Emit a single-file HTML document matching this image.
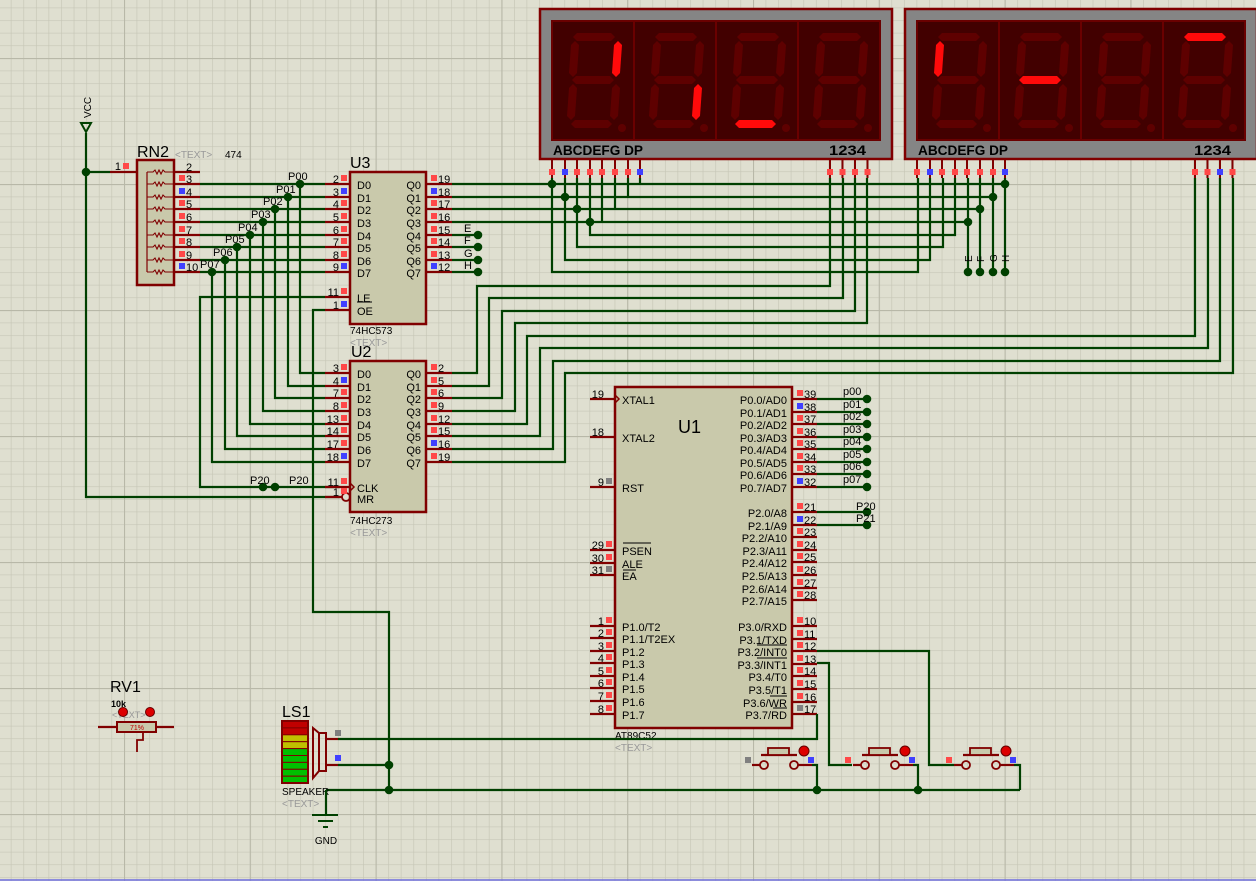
<!DOCTYPE html>
<html><head><meta charset="utf-8"><style>
html,body{margin:0;padding:0;background:#dfdfd0;width:1256px;height:881px;overflow:hidden}
svg{display:block}
text{font-family:"Liberation Sans",sans-serif}
</style></head><body>
<svg id="s" width="1256" height="881" xmlns="http://www.w3.org/2000/svg">
<defs>
<pattern id="g" x="10.8" y="7.6" width="12.58" height="12.6" patternUnits="userSpaceOnUse"><path d="M0 0H12.58M0 0V12.6" stroke="#c6c6b6" stroke-width="1.3" fill="none"/></pattern>
<pattern id="G" x="124" y="58" width="125.8" height="126" patternUnits="userSpaceOnUse"><path d="M0 0H125.8M0 0V126" stroke="#b8b8a8" stroke-width="2.2" fill="none"/></pattern>
</defs>
<rect width="1256" height="881" fill="#dfdfd0"/>
<rect width="1256" height="881" fill="url(#g)"/>
<rect width="1256" height="881" fill="url(#G)"/>
<line x1="0" y1="880" x2="1256" y2="880" stroke="#7070e0" stroke-width="1.5"/>
<g id="c"></g>
</svg>
<script>
var o='';
var W='#004000',R='#800000',F='#c9c9ab';
function L(pts,c,w){o+='<polyline points="'+pts+'" fill="none" stroke="'+(c||W)+'" stroke-width="'+(w||2.2)+'"/>';}
function D(x,y){o+='<circle cx="'+x+'" cy="'+y+'" r="4.3" fill="'+W+'"/>';}
function T(x,y,s,sz,a,c,extra){o+='<text x="'+x+'" y="'+y+'" font-size="'+(sz||11)+'" fill="'+(c||'#000')+'"'+(a?' text-anchor="'+a+'"':'')+(extra||'')+'>'+s+'</text>';}
function Q(x,y,c){o+='<rect x="'+x+'" y="'+y+'" width="6" height="6" fill="'+(c=='b'?'#4040ff':c=='g'?'#808080':'#ff4848')+'"/>';}
function RC(x,y,w,h,f,sw){o+='<rect x="'+x+'" y="'+y+'" width="'+w+'" height="'+h+'" fill="'+(f||F)+'" stroke="'+R+'" stroke-width="'+(sw||2.5)+'"/>';}
function LP(x0,x1,y,num,lab,c){L(x0+','+y+' '+x1+','+y,R);T(x1-11,y-1,num,11,'end');Q(x1-9,y-9,c);if(lab)T(x1+7,y+5,lab,11);}
function RP(x1,x0,y,num,lab,c){L(x1+','+y+' '+x0+','+y,R);Q(x1+5,y-9,c);T(x1+12,y-1,num,11);if(lab)T(x1-5,y+5,lab,11,'end');}

L('86,133 86,497 340,497');
o+='<polygon points="81,123 91,123 86,132" fill="none" stroke="'+W+'" stroke-width="2"/>';
o+='<text x="0" y="0" font-size="10" transform="translate(91,118) rotate(-90)">VCC</text>';
D(86,172);L('86,172 110,172');
L('110,172 137,172',R);T(121,170,'1',11,'end');Q(123,163,'r');
RC(137,160,37,125);
L('147,172 147,272',R,1.2);
var ry=[172,184,197,209,222,235,247,260,272],rn=['2','3','4','5','6','7','8','9','10'];
for(var i=0;i<9;i++){var y=ry[i];L('147,'+y+' 153,'+y+' 155,'+(y-2)+' 157,'+(y+2)+' 159,'+(y-2)+' 161,'+(y+2)+' 163,'+(y-2)+' 165,'+y+' 174,'+y,R,1.1);
L('174,'+y+' 200,'+y,R);T(186,y-1,rn[i],11);if(i>0)Q(179,y-9,(i==2||i==8)?'b':'r');}
T(137,157,'RN2',16);T(175,158,'&lt;TEXT&gt;',10,null,'#999');T(225,158,'474',10);

var dy=[184,197,209,222,235,247,260,272];
RC(350,172,76,152);T(350,168,'U3',16);T(350,334,'74HC573',10);T(350,346,'&lt;TEXT&gt;',10,null,'#999');
var u3l=['2','3','4','5','6','7','8','9'],u3r=['19','18','17','16','15','14','13','12'];
for(i=0;i<8;i++){LP(325,350,dy[i],u3l[i],'D'+i,(i==1||i==7)?'b':'r');RP(426,452,dy[i],u3r[i],'Q'+i,(i==1||i==7)?'b':'r');}
LP(325,350,297,'11','LE','r');LP(325,350,310,'1','OE','b');L('357,302 372,302','#000',1);
var vx=[300,288,275,263,250,237,225,212],u2y=[373,386,398,411,424,436,449,462];
var pl=['P00','P01','P02','P03','P04','P05','P06','P07'];
for(i=0;i<8;i++){L('200,'+dy[i]+' 325,'+dy[i]);L(vx[i]+','+dy[i]+' '+vx[i]+','+u2y[i]+' 325,'+u2y[i]);D(vx[i],dy[i]);T(vx[i]-12,dy[i]-4,pl[i],11);}
var eg=['E','F','G','H'];
for(i=0;i<4;i++){var y=dy[4+i];L('452,'+y+' 478,'+y);D(478,y);T(464,y-3,eg[i],11);}
L('325,297 200,297 200,487 340,487');D(263,487);D(275,487);T(250,484,'P20',11);T(289,484,'P20',11);
L('325,310 313,310 313,612 389,612 389,790');

RC(350,361,76,151);T(351,357,'U2',16);T(350,524,'74HC273',10);T(350,536,'&lt;TEXT&gt;',10,null,'#999');
var u2l=['3','4','7','8','13','14','17','18'],u2r=['2','5','6','9','12','15','16','19'];
for(i=0;i<8;i++){LP(325,350,u2y[i],u2l[i],'D'+i,(i==1||i==7)?'b':'r');RP(426,452,u2y[i],u2r[i],'Q'+i,i==6?'b':'r');}
LP(325,350,487,'11','CLK','r');o+='<polyline points="350,483 354,487 350,491" fill="none" stroke="'+R+'" stroke-width="1.5"/>';
L('325,497 342,497',R);o+='<circle cx="346" cy="497" r="4" fill="none" stroke="'+R+'" stroke-width="1.8"/>';T(339,496,'1',11,'end');Q(341,488,'r');T(357,503,'MR',11);

function seg(pts,c){o+='<polygon points="'+pts+'" fill="'+c+'"/>';}
function H(x1,x2,y,c){seg(x1+','+y+' '+(x1+4)+','+(y-4)+' '+(x2-4)+','+(y-4)+' '+x2+','+y+' '+(x2-4)+','+(y+4)+' '+(x1+4)+','+(y+4),c);}
function V(xt,xb,y1,y2,c){seg(xt+','+y1+' '+(xt+4)+','+(y1+4)+' '+(xb+4)+','+(y2-4)+' '+xb+','+y2+' '+(xb-4)+','+(y2-4)+' '+(xt-4)+','+(y1+4),c);}
function digit(Lx,lit){var on='#ff0a0a',off='#5e0000';function c(s){return lit.indexOf(s)>=0?on:off;}
H(Lx+21,Lx+63,37,c('A'));V(Lx+66,Lx+64,41,77,c('B'));V(Lx+64,Lx+62,84,120,c('C'));H(Lx+19,Lx+60,124,c('D'));
V(Lx+21,Lx+19,84,120,c('E'));V(Lx+23,Lx+21,41,77,c('F'));H(Lx+20,Lx+62,80,c('G'));
o+='<circle cx="'+(Lx+70)+'" cy="128" r="4" fill="'+off+'"/>';}
function disp(X,lits,pc,dc){
o+='<rect x="'+X+'" y="9" width="352" height="150" fill="#858585" stroke="'+R+'" stroke-width="2.5"/>';
o+='<rect x="'+(X+12)+'" y="21" width="328" height="119" fill="#420000" stroke="#6a0000" stroke-width="2"/>';
for(var k=1;k<4;k++){var sx=X+12+k*82;L(sx+',21 '+sx+',140','#6a0000',2);}
for(k=0;k<4;k++)digit(X+12+k*82,lits[k]);
o+='<text x="'+(X+13)+'" y="155" font-size="14" font-weight="bold" textLength="90" lengthAdjust="spacingAndGlyphs" font-family="Liberation Mono,monospace">ABCDEFG DP</text>';
o+='<text x="'+(X+289)+'" y="155" font-size="14" font-weight="bold" textLength="37" lengthAdjust="spacingAndGlyphs" font-family="Liberation Mono,monospace">1234</text>';
var px=[0,13,25,38,50,63,76,88];
for(k=0;k<8;k++){var x=X+12+px[k];L(x+',160 '+x+',178',R,2);Q(x-3,169,pc[k]);}
for(k=0;k<4;k++){var x=X+290+k*12.5;L(x+',160 '+x+',178',R,2);Q(x-3,169,dc[k]);}
}
disp(540,['B','C','D',''],['r','b','r','r','r','r','r','b'],['r','r','r','r']);
disp(905,['F','G','','A'],['r','b','r','r','r','r','r','b'],['r','r','b','r']);
L('452,184 1005,184');L('452,197 993,197');L('452,209 980,209');L('452,222 968,222');
L('552,178 552,272 918,272 918,178');L('565,178 565,260 930,260 930,178');L('577,178 577,247 943,247 943,178');L('590,178 590,235 955,235 955,178');
L('602,178 602,222');L('615,178 615,209');L('628,178 628,197');L('640,178 640,184');
D(552,184);D(565,197);D(577,209);D(590,222);
L('968,178 968,272');L('980,178 980,272');L('993,178 993,272');L('1005,178 1005,272');
D(968,222);D(980,209);D(993,197);D(1005,184);
for(i=0;i<4;i++){var x=[968,980,993,1005][i];D(x,272);o+='<text x="0" y="0" font-size="10" transform="translate('+(x+4)+',262) rotate(-90)">'+eg[i]+'</text>';}
L('830,178 830,286 477,286 477,373 452,373');L('843,178 843,298 489,298 489,386 452,386');
L('855,178 855,311 502,311 502,398 452,398');L('867,178 867,323 515,323 515,411 452,411');
L('1195,178 1195,336 527,336 527,424 452,424');L('1208,178 1208,348 540,348 540,436 452,436');
L('1220,178 1220,361 553,361 553,449 452,449');L('1233,178 1233,373 565,373 565,462 452,462');

RC(615,387,177,341);T(678,433,'U1',18);T(615,739,'AT89C52',10);T(615,751,'&lt;TEXT&gt;',10,null,'#999');
var ll=[[399,'19','XTAL1','n'],[437,'18','XTAL2','n'],[487,'9','RST','g'],[550,'29','PSEN','r'],[563,'30','ALE','r'],[575,'31','EA','g'],
[626,'1','P1.0/T2','r'],[638,'2','P1.1/T2EX','r'],[651,'3','P1.2','r'],[663,'4','P1.3','r'],[676,'5','P1.4','r'],[688,'6','P1.5','r'],[701,'7','P1.6','r'],[714,'8','P1.7','r']];
for(i=0;i<ll.length;i++){var a=ll[i];L('590,'+a[0]+' 615,'+a[0],R);T(604,a[0]-1,a[1],11,'end');if(a[3]!='n')Q(606,a[0]-9,a[3]);T(622,a[0]+5,a[2],11);}
L('623,543 651,543','#000',1);L('623,570 636,570','#000',1);
o+='<polyline points="615,395 619,399 615,403" fill="none" stroke="'+R+'" stroke-width="1.5"/>';
var rr=[];
for(i=0;i<8;i++)rr.push([399+i*12.55,String(39-i),'P0.'+i+'/AD'+i,(i==1||i==7)?'b':'r']);
for(i=0;i<8;i++)rr.push([512+i*12.6,String(21+i),'P2.'+i+'/A'+(8+i),i==1?'b':'r']);
var p3=['P3.0/RXD','P3.1/TXD','P3.2/INT0','P3.3/INT1','P3.4/T0','P3.5/T1','P3.6/WR','P3.7/RD'];
for(i=0;i<8;i++)rr.push([626+i*12.6,String(10+i),p3[i],i==7?'g':'r']);
for(i=0;i<rr.length;i++){var a=rr[i],y=Math.round(a[0]);L('792,'+y+' 817,'+y,R);Q(797,y-9,a[3]);T(804,y-1,a[1],11);T(787,y+5,a[2],11,'end');}
L('757,645 787,645','#000',1);L('757,658 787,658','#000',1);L('770,696 787,696','#000',1);L('773,708 787,708','#000',1);
for(i=0;i<8;i++){var y=Math.round(399+i*12.55);L('817,'+y+' 867,'+y);D(867,y);T(843,y-4,'p0'+i,11);}
L('817,512 867,512');D(867,512);T(856,510,'P20',11);L('817,525 867,525');D(867,525);T(856,522,'P21',11);

function btn(x){L((x-12)+',765 '+(x-4)+',765',R);o+='<circle cx="'+x+'" cy="765" r="4" fill="none" stroke="'+R+'" stroke-width="1.8"/>';
o+='<circle cx="'+(x+30)+'" cy="765" r="4" fill="none" stroke="'+R+'" stroke-width="1.8"/>';L((x+34)+',765 '+(x+48)+',765',R);
L((x-3)+',755 '+(x+33)+',755',R);o+='<rect x="'+(x+4)+'" y="748" width="21" height="7" fill="'+F+'" stroke="'+R+'" stroke-width="1.8"/>';
o+='<circle cx="'+(x+40)+'" cy="751" r="5" fill="#d00" stroke="#600" stroke-width="1"/>';}
btn(764);btn(865);btn(966);Q(745,757,'g');Q(808,757,'b');Q(845,757,'r');Q(909,757,'b');Q(946,757,'r');Q(1010,757,'b');
L('812,765 817,765 817,790');L('913,765 918,765 918,790');L('1014,765 1020,765 1020,790');
L('817,663 829,663 829,765 852,765');L('817,651 929,651 929,765 954,765');
L('817,714 817,739 338,739');L('338,765 389,765');L('326,790 1020,790');
D(389,765);D(389,790);D(817,790);D(918,790);

T(282,717,'LS1',16);
var sc=['#c00000','#c00000','#c0c000','#c0c000','#00c000','#00c000','#00c000','#00c000','#00c000'];
for(i=0;i<9;i++)o+='<rect x="282" y="'+(721+i*6.9)+'" width="26" height="6.9" fill="'+sc[i]+'" stroke="'+R+'" stroke-width="1"/>';
o+='<rect x="282" y="721" width="26" height="62" fill="none" stroke="'+R+'" stroke-width="2"/>';
o+='<rect x="319" y="733" width="7" height="38" fill="none" stroke="'+R+'" stroke-width="2"/>';
o+='<polygon points="319,733 313,728 313,778 319,771" fill="none" stroke="'+R+'" stroke-width="2"/>';
L('326,739 338,739',R);L('326,765 338,765',R);Q(335,730,'g');Q(335,755,'b');
T(282,795,'SPEAKER',10);T(282,807,'&lt;TEXT&gt;',10,null,'#999');
L('326,790 326,815');L('312,815 338,815',W,2);L('318,821 333,821',W,2);L('323,827 328,827',W,2);T(326,844,'GND',10,'middle');

T(110,692,'RV1',16);T(111,707,'10k',9,null,'#000',' font-weight="bold"');T(112,718,'&lt;TEXT&gt;',9,null,'#999');
L('98,727 117,727',R);L('156,727 174,727',R);
o+='<rect x="117" y="722" width="39" height="10" fill="'+F+'" stroke="'+R+'" stroke-width="2"/>';T(137,730,'71%',7,'middle','#c00000');
L('137,752 137,740 143,740 143,733',R,1.8);
o+='<circle cx="123" cy="712" r="4.5" fill="#d00" stroke="#600"/><circle cx="150" cy="712" r="4.5" fill="#d00" stroke="#600"/>';

document.getElementById('c').innerHTML=o;
</script>
</body></html>
